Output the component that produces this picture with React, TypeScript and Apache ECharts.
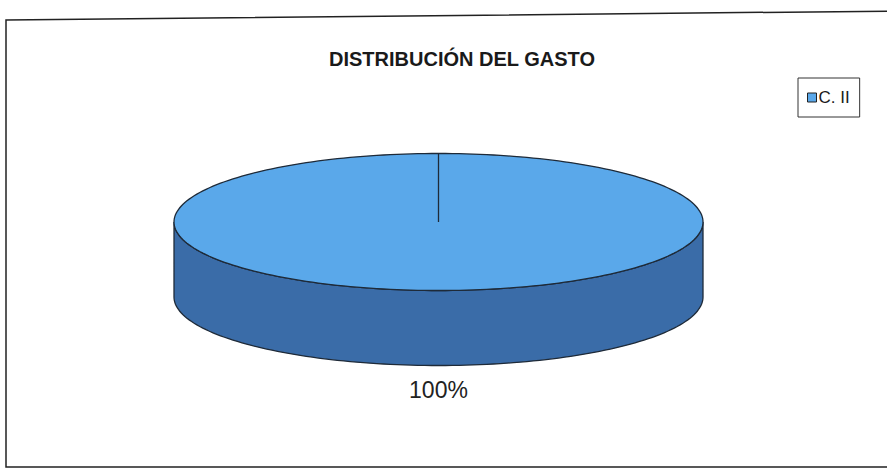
import React, { useEffect, useRef } from "react";
import * as echarts from "echarts";

const categories: string[] = ["C. II"];
const values: number[] = [100];
const titleText = "DISTRIBUCIÓN DEL GASTO";

const FONT = "'Liberation Sans', Arial, Helvetica, sans-serif";
const TOP_COLOR = "#5aa8ea";
const SIDE_COLOR = "#3a6ca8";
const STROKE = "#1e2a38";

export default function App() {
  const ref = useRef<HTMLDivElement>(null);
  useEffect(() => {
    document.body.style.margin = "0";
    if (!ref.current) return;
    const chart = echarts.init(ref.current, null, { renderer: "svg" });
    const total = values.reduce((a, b) => a + b, 0);
    const cx = 438.5, cy = 222, rx = 264.5, ry = 68.5, depth = 75;
    const pt = (deg: number, dy = 0) => {
      const r = (deg * Math.PI) / 180;
      return [cx + rx * Math.sin(r), cy - ry * Math.cos(r) + dy];
    };
    const starts: number[] = [];
    let acc = 0;
    values.forEach((v) => {
      starts.push((acc / total) * 360);
      acc += v;
    });

    const renderItem = (params: any, api: any) => {
      const i = params.dataIndex;
      const v = api.value(0);
      const a0 = starts[i];
      const a1 = a0 + (v / total) * 360;
      const children: any[] = [];
      const s0 = Math.max(a0, 90), s1 = Math.min(a1, 270);
      if (s1 > s0) {
        const topPts: number[][] = [];
        const botPts: number[][] = [];
        const n = 120;
        for (let k = 0; k <= n; k++) {
          const a = s0 + ((s1 - s0) * k) / n;
          topPts.push(pt(a));
          botPts.push(pt(a, depth));
        }
        children.push({
          type: "polygon",
          z2: 0,
          shape: { points: topPts.concat(botPts.reverse()) },
          style: { fill: SIDE_COLOR, stroke: STROKE, lineWidth: 1.3 },
        });
      }
      const pts: number[][] = [[cx, cy]];
      const n2 = 240;
      for (let k = 0; k <= n2; k++) {
        pts.push(pt(a0 + ((a1 - a0) * k) / n2));
      }
      children.push({
        type: "polygon",
        z2: 1,
        shape: { points: pts },
        style: { fill: TOP_COLOR, stroke: STROKE, lineWidth: 1.3 },
      });
      const mid = ((a0 + a1) / 2) * (Math.PI / 180);
      const off = 24;
      const lx = cx + (rx + off) * Math.sin(mid);
      const ly = cy + depth - (ry + off) * Math.cos(mid);
      children.push({
        type: "text",
        z2: 2,
        style: {
          text: Math.round((v / total) * 100) + "%",
          x: lx,
          y: ly,
          align: "center",
          verticalAlign: "middle",
          font: `23px ${FONT}`,
          fill: "#222",
        },
      });
      return { type: "group", children };
    };

    chart.setOption({
      animation: false,
      backgroundColor: "#ffffff",
      title: {
        text: titleText,
        left: 457,
        top: 44,
        textAlign: "center",
        textStyle: { fontFamily: FONT, fontWeight: "bold", fontSize: 20, color: "#1a1a1a" },
      },
      legend: {
        data: categories,
        left: 798,
        top: 78,
        orient: "vertical",
        icon: "rect",
        itemWidth: 9,
        itemHeight: 9,
        itemGap: 4,
        padding: [11, 10, 11, 9],
        borderColor: "#333",
        borderWidth: 1,
        textStyle: { fontFamily: FONT, fontSize: 17, color: "#1a1a1a", padding: [0, 0, 0, -3] },
        itemStyle: { color: TOP_COLOR, borderColor: "#222", borderWidth: 1 },
      },
      graphic: [
        {
          type: "polygon",
          shape: { points: [[6, 20], [900, 11], [900, 467], [6, 467]] },
          style: { fill: "none", stroke: "#222", lineWidth: 1.5 },
          silent: true,
        },
      ],
      series: categories.map((name, i) => ({
        type: "custom",
        name,
        coordinateSystem: "none",
        renderItem,
        itemStyle: { color: TOP_COLOR },
        data: [{ value: [values[i]], dataIndex: i }],
      })),
    });
    return () => chart.dispose();
  }, []);
  return <div ref={ref} style={{ position: "absolute", left: 0, top: 0, width: 887, height: 471 }} />;
}
